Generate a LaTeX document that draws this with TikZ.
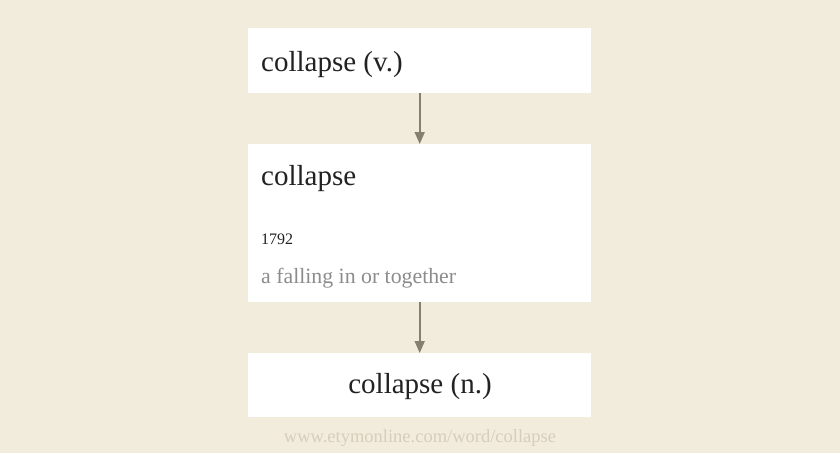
\documentclass[tikz,border=0pt]{standalone}
\usepackage{fontspec}
\setmainfont{Liberation Serif}
\usetikzlibrary{arrows.meta}
\definecolor{paper}{HTML}{F2ECDC}
\definecolor{ink}{HTML}{222222}
\definecolor{glosscol}{HTML}{8C8C8C}
\definecolor{linkcol}{HTML}{857F70}
\definecolor{urlcol}{HTML}{D6CEBD}
\tikzset{wordbox/.style={fill=white,minimum width=343pt,inner sep=0pt,
                         anchor=north west}}
\tikzset{word/.style={anchor=base west,inner sep=0pt,text=ink,
                      font=\fontsize{29}{34}\selectfont}}
\tikzset{year/.style={word,font=\fontsize{16}{19}\selectfont}}
\tikzset{gloss/.style={word,text=glosscol,font=\fontsize{21.8}{26}\selectfont}}
\tikzset{source/.style={anchor=base,inner sep=0pt,text=urlcol,
                        font=\fontsize{18.5}{22}\selectfont}}
\tikzset{link/.style={draw=linkcol,line width=1.6pt,
                      -{Triangle[length=12pt,width=10pt]}}}

\begin{document}
\begin{tikzpicture}[x=1pt,y=-1pt]

    % background
    \fill[paper] (0,0) rectangle (840,453);
    \useasboundingbox (0,0) rectangle (840,453);

    % boxes
    \node[wordbox,minimum height=65pt] (top) at (248,28) {};
    \node[wordbox,minimum height=158pt] (mid) at (248,144) {};
    \node[wordbox,minimum height=64pt] (bot) at (248,353) {};

    % words
    \node[word] (topword) at (261,71) {collapse (v.)};
    \node[word] (midword) at (261,185) {collapse};
    \node[year] (midyear) at (261,244) {1792};
    \node[gloss] (midgloss) at (261,283) {a falling in or together};
    \node[word,anchor=base] (botword) at (420,393) {collapse (n.)};

    % links
    \draw[link] (top) -- (mid);
    \draw[link] (mid) -- (bot);

    % source
    \node[source] (url) at (420,442) {www.etymonline.com/word/collapse};
\end{tikzpicture}
\end{document}
